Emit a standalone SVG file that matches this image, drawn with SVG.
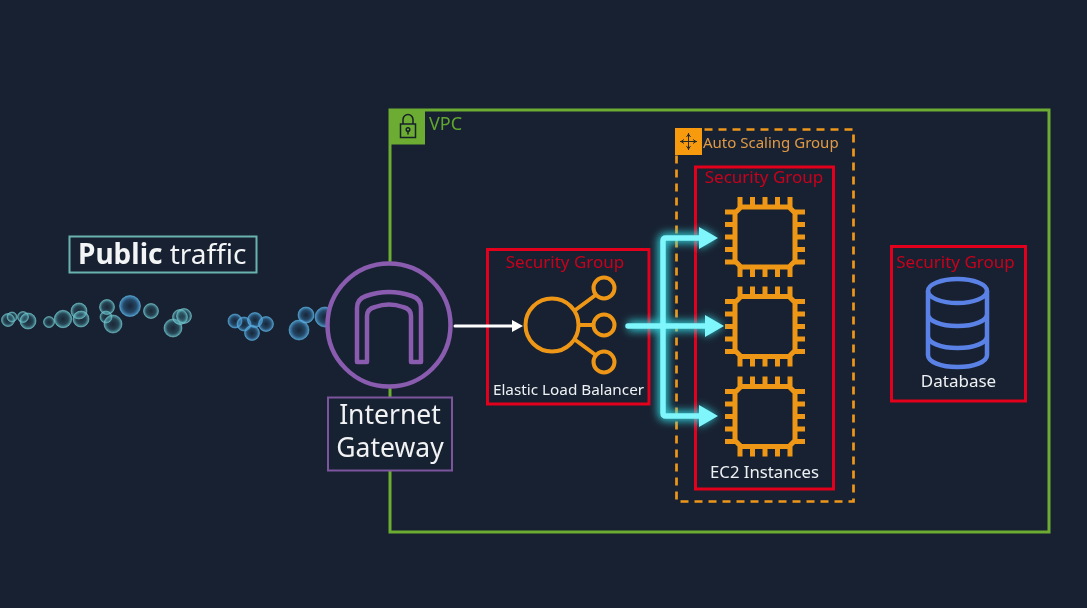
<svg xmlns="http://www.w3.org/2000/svg" width="1087" height="608" viewBox="0 0 1087 608">
<style>
text{font-family:"Noto Sans","DejaVu Sans",sans-serif}
.sg{fill:none;stroke:#e3001b;stroke-width:3}
.sgt{fill:#c8001c;font-size:17px;text-anchor:middle}
.lbl{fill:#eef1f3;text-anchor:middle}
.or{fill:none;stroke:#ee9619;stroke-width:4}
.chip{fill:none;stroke:#ee9619;stroke-width:5;stroke-linejoin:round}
.pin{fill:none;stroke:#ee9619;stroke-width:5}
.db{fill:none;stroke:#5a82e6;stroke-width:4.5}
.b1{fill:url(#bt);stroke:#74c6cc;stroke-width:1;stroke-opacity:.55}
.b2{fill:url(#bb);stroke:#5aaede;stroke-width:1;stroke-opacity:.55}
.cy{fill:none;stroke:#7ff6fb;stroke-width:5.5;stroke-linejoin:round;stroke-linecap:round}
.cyh{fill:#7ff6fb}
</style>
<defs>
<radialGradient id="bt"><stop offset="0" stop-color="#4fa7b4" stop-opacity=".05"/><stop offset=".6" stop-color="#4fa7b4" stop-opacity=".25"/><stop offset="1" stop-color="#72ccd4" stop-opacity=".8"/></radialGradient>
<radialGradient id="bb"><stop offset="0" stop-color="#2f80b8" stop-opacity=".05"/><stop offset=".6" stop-color="#3a8cc6" stop-opacity=".35"/><stop offset="1" stop-color="#5cb0e4" stop-opacity=".85"/></radialGradient>
<filter id="glow" x="-30%" y="-30%" width="160%" height="160%"><feGaussianBlur stdDeviation="4.500"/></filter>
<filter id="soft"><feGaussianBlur stdDeviation=".45"/></filter>
<g id="chipshape">
<path class="chip" d="M-24 -30H24L30 -24V24L24 30H-24L-30 24V-24Z"/>
<path class="pin" d="M-25 -30V-40M-12.500 -30V-40M0 -30V-40M12.500 -30V-40M25 -30V-40M-25 30V40M-12.500 30V40M0 30V40M12.500 30V40M25 30V40M-30 -25H-40M-30 -12.500H-40M-30 0H-40M-30 12.500H-40M-30 25H-40M30 -25H40M30 -12.500H40M30 0H40M30 12.500H40M30 25H40"/>
</g>
</defs>
<rect width="1087" height="608" fill="#182131"/>
<g filter="url(#soft)">
<g id="vpc">
<rect x="390" y="110" width="659" height="422" fill="none" stroke="#6cac30" stroke-width="3"/>
<rect x="389" y="109" width="36" height="35.500" fill="#6cac30"/>
<g fill="none" stroke="#14202c" stroke-width="1.500"><rect x="400.500" y="124" width="15" height="13.500"/><path d="M403 124V119.500a5 5 0 0 1 10 0V124"/><circle cx="408" cy="129.500" r="1.800"/><path d="M408 131V134.500"/></g>
<text x="429" y="129.500" fill="#5fa52e" font-size="18">VPC</text>
</g>
<g id="public-traffic">
<rect x="69.500" y="236.500" width="187" height="36" fill="none" stroke="#68b3af" stroke-width="2"/>
<text x="78" y="263.500" fill="#f2f4f5" font-size="28"><tspan font-weight="700">Public</tspan> <tspan>traffic</tspan></text>
</g>
<g id="traffic-bubbles">
<circle class="b1" cx="8" cy="320" r="6.500"/><circle class="b1" cx="12" cy="317" r="5"/><circle class="b1" cx="23" cy="317" r="5.500"/><circle class="b1" cx="28" cy="321" r="8"/><circle class="b1" cx="49" cy="322" r="5.500"/><circle class="b1" cx="63" cy="319" r="8.700"/><circle class="b1" cx="79" cy="311" r="8"/><circle class="b1" cx="81" cy="319" r="8"/><circle class="b1" cx="107" cy="307" r="7.500"/><circle class="b1" cx="106" cy="317" r="6"/><circle class="b1" cx="113" cy="324" r="9"/><circle class="b2" cx="130" cy="306" r="10.500"/><circle class="b1" cx="151" cy="311" r="7.500"/><circle class="b1" cx="173" cy="328" r="9"/><circle class="b1" cx="180" cy="317" r="7.500"/><circle class="b1" cx="184" cy="316" r="7.500"/>
<circle class="b2" cx="235" cy="321" r="7"/><circle class="b2" cx="244" cy="324" r="7"/><circle class="b2" cx="255" cy="320" r="7.500"/><circle class="b2" cx="252" cy="333" r="7.500"/><circle class="b2" cx="266" cy="324" r="7.500"/><circle class="b2" cx="299" cy="330" r="10"/><circle class="b2" cx="306" cy="315" r="8"/><circle class="b2" cx="325" cy="317" r="10"/>
</g>
<g id="internet-gateway">
<circle cx="389" cy="325" r="61.500" fill="#182131" stroke="#8a5bb0" stroke-width="4.500"/>
<path d="M357 362V308Q357 299 366 296Q389 288 412 296Q421 299 421 308V362H411V316Q411 309 403 307Q389 302 375 307Q367 309 367 316V362Z" fill="none" stroke="#8a5bb0" stroke-width="4.500" stroke-linejoin="round"/>
<rect x="328" y="397.500" width="124" height="73" fill="#182131" stroke="#7c559e" stroke-width="2"/>
<text x="390" y="424" fill="#f0f2f4" font-size="26.500" text-anchor="middle">Internet</text>
<text x="390" y="457" fill="#f0f2f4" font-size="26.500" text-anchor="middle">Gateway</text>
</g>
<g id="elb">
<rect class="sg" x="487.500" y="249.500" width="161.500" height="154.500"/>
<text class="sgt" x="565" y="268">Security Group</text>
<circle class="or" cx="552" cy="325" r="26.500"/>
<circle class="or" cx="604" cy="288" r="10.500"/><circle class="or" cx="604" cy="325" r="10.500"/><circle class="or" cx="604" cy="362" r="10.500"/>
<path class="or" d="M574 311L597 294M578 325H594M574 339L597 356"/>
<text class="lbl" x="568.500" y="395" font-size="15.300">Elastic Load Balancer</text>
</g>
<g id="auto-scaling-group">
<rect x="676.500" y="129.500" width="177" height="372" fill="none" stroke="#ee9619" stroke-width="2.700" stroke-dasharray="8 6"/>
<rect x="675" y="128" width="27" height="27" fill="#f79a0e"/>
<path d="M688.500 133V150M680 141.500H697M688.500 134l-2 3M688.500 134l2 3M688.500 149l-2 -3M688.500 149l2 -3M681 141.500l3 -2M681 141.500l3 2M696 141.500l-3 -2M696 141.500l-3 2" fill="none" stroke="#2a2a20" stroke-width="1"/>
<text x="703" y="148" fill="#e09a44" font-size="15">Auto Scaling Group</text>
</g>
<g id="ec2-instances">
<rect class="sg" x="695.500" y="167" width="138" height="322"/>
<text class="sgt" x="764" y="183">Security Group</text>
<use href="#chipshape" x="765" y="237"/>
<use href="#chipshape" x="765" y="326.500"/>
<use href="#chipshape" x="765" y="416.500"/>
<text class="lbl" x="764.500" y="478" font-size="16.700">EC2 Instances</text>
</g>
<g id="database">
<rect class="sg" x="891.500" y="246.500" width="134" height="154.500"/>
<text class="sgt" x="955.500" y="268">Security Group</text>
<ellipse class="db" cx="957.500" cy="291" rx="29.500" ry="12"/>
<path class="db" d="M928 291V355C928 362 941 367 957.500 367S987 362 987 355V291M928 314C928 321 941 326 957.500 326S987 321 987 314M928 336C928 343 941 348 957.500 348S987 343 987 336"/>
<text class="lbl" x="958.500" y="387" font-size="17">Database</text>
</g>
<g id="connectors">
<g filter="url(#glow)" opacity=".85"><path d="M628 326H708M699 238H666Q663 238 663 241V413Q663 416 666 416H699" fill="none" stroke="#36e6ee" stroke-width="10"/><path d="M699 227L718 238L699 249ZM705 315L724 326L705 337ZM699 405L718 416L699 427Z" fill="#36e6ee"/></g>
<path d="M455 326H512" stroke="#fff" stroke-width="3" fill="none" stroke-linecap="round"/><path d="M512 320L523 326L512 332Z" fill="#fff"/>
<path class="cy" d="M628 326H708M699 238H666Q663 238 663 241V413Q663 416 666 416H699"/>
<path class="cyh" d="M699 227L718 238L699 249ZM705 315L724 326L705 337ZM699 405L718 416L699 427Z"/>
</g>
</g>
</svg>
